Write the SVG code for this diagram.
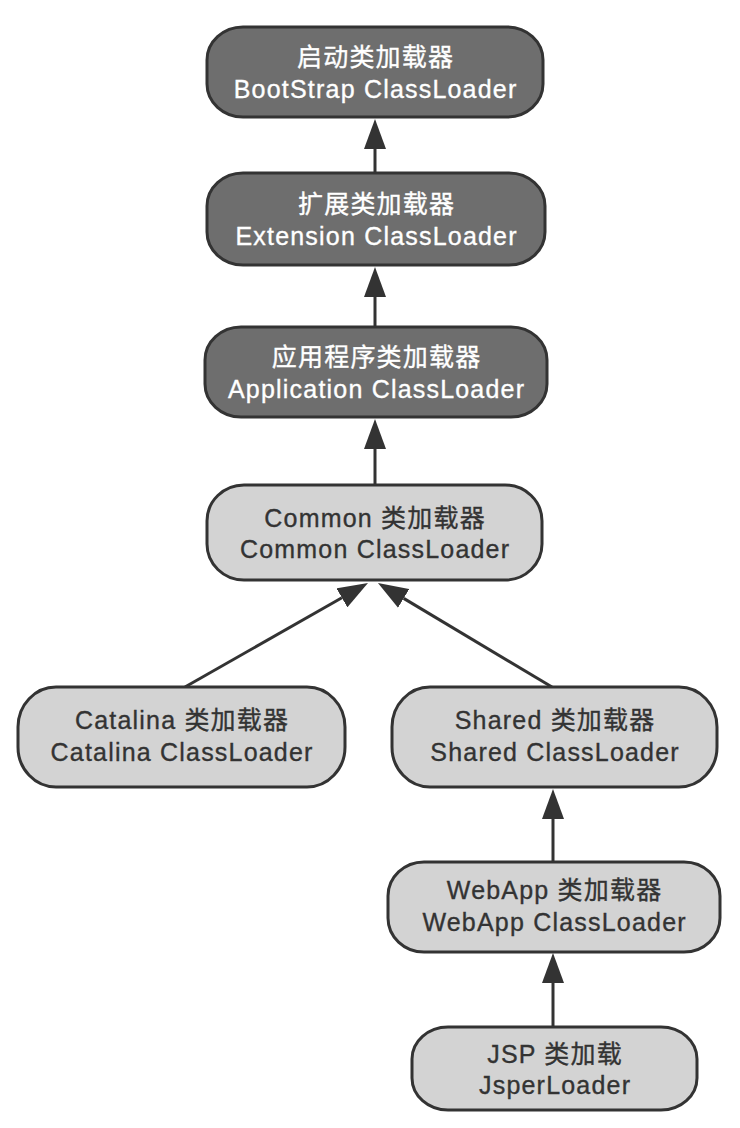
<svg xmlns="http://www.w3.org/2000/svg" width="740" height="1128" viewBox="0 0 740 1128">
<style>
.dark rect{fill:#6e6e6e;stroke:#333;stroke-width:3}
.light rect{fill:#d3d3d3;stroke:#333;stroke-width:3}
text{font-family:"Liberation Sans","Noto Sans CJK SC",sans-serif;font-size:25px;letter-spacing:1.2px;text-anchor:middle;stroke-width:0.35px}
.dark text{fill:#fff;stroke:#fff}
.light text{fill:#333;stroke:#333}
.edge{stroke:#333;stroke-width:3;fill:none;marker-end:url(#ah)}
</style>
<defs>
<marker id="ah" viewBox="0 0 30 22" refX="0" refY="11" markerWidth="30" markerHeight="22" markerUnits="userSpaceOnUse" orient="auto">
<path d="M0,0 L30,11 L0,22 z" fill="#333"/>
</marker>
</defs>
<rect width="740" height="1128" fill="#fff"/>
<g id="connectors">
<line class="edge" x1="375" y1="173" x2="375" y2="149"/>
<line class="edge" x1="375" y1="327" x2="375" y2="297"/>
<line class="edge" x1="375" y1="485" x2="375" y2="449"/>
<line class="edge" x1="185" y1="687" x2="341.9" y2="597.8"/>
<line class="edge" x1="552" y1="687" x2="403.7" y2="598.4"/>
<line class="edge" x1="553" y1="862" x2="553" y2="819"/>
<line class="edge" x1="553" y1="1027" x2="553" y2="983"/>
</g>
<g id="bootstrap" class="dark">
<rect x="207" y="27" width="336" height="90" rx="36" ry="33"/>
<text x="375.6" y="66">启动类加载器</text>
<text x="375.6" y="98">BootStrap ClassLoader</text>
</g>
<g id="extension" class="dark">
<rect x="207" y="173" width="338" height="92" rx="36" ry="33"/>
<text x="376.6" y="213">扩展类加载器</text>
<text x="376.6" y="245">Extension ClassLoader</text>
</g>
<g id="application" class="dark">
<rect x="205" y="327" width="342" height="90" rx="36" ry="33"/>
<text x="376.6" y="366">应用程序类加载器</text>
<text x="376.6" y="398">Application ClassLoader</text>
</g>
<g id="common" class="light">
<rect x="207" y="485" width="335" height="95" rx="37" ry="36"/>
<text x="375.1" y="527">Common 类加载器</text>
<text x="375.1" y="558">Common ClassLoader</text>
</g>
<g id="catalina" class="light">
<rect x="18" y="687" width="327" height="100" rx="38" ry="40"/>
<text x="182.1" y="729">Catalina 类加载器</text>
<text x="182.1" y="761">Catalina ClassLoader</text>
</g>
<g id="shared" class="light">
<rect x="392" y="687" width="325" height="100" rx="38" ry="40"/>
<text x="555.1" y="729">Shared 类加载器</text>
<text x="555.1" y="761">Shared ClassLoader</text>
</g>
<g id="webapp" class="light">
<rect x="388" y="862" width="332" height="90" rx="36" ry="34"/>
<text x="554.6" y="899">WebApp 类加载器</text>
<text x="554.6" y="931">WebApp ClassLoader</text>
</g>
<g id="jsp" class="light">
<rect x="412" y="1027" width="285" height="83" rx="36" ry="32"/>
<text x="555.1" y="1063">JSP 类加载</text>
<text x="555.1" y="1094">JsperLoader</text>
</g>
</svg>
